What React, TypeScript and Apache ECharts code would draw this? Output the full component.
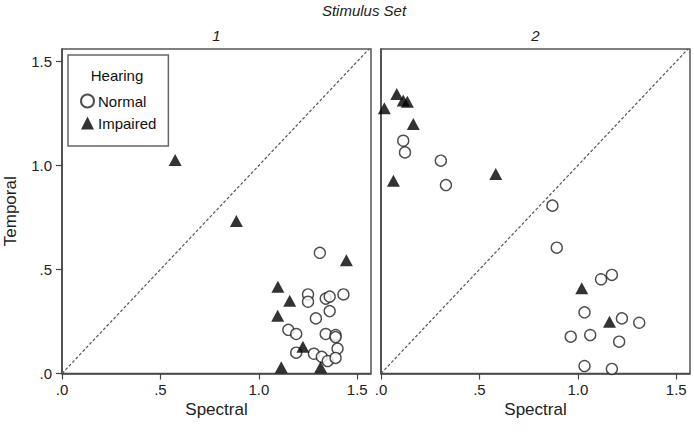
import React, { useEffect, useRef } from "react";
import * as echarts from "echarts";

// Stimulus set 1
const normalX1 = [1.31, 1.25, 1.25, 1.34, 1.36, 1.43, 1.36, 1.29, 1.15, 1.19, 1.34, 1.39, 1.39, 1.40, 1.19, 1.28, 1.32, 1.35, 1.39];
const normalY1 = [0.58, 0.38, 0.345, 0.36, 0.37, 0.38, 0.30, 0.265, 0.21, 0.19, 0.19, 0.185, 0.175, 0.12, 0.10, 0.095, 0.08, 0.06, 0.075];
const impairedX1 = [0.575, 0.886, 1.445, 1.097, 1.157, 1.096, 1.224, 1.114, 1.314];
const impairedY1 = [1.026, 0.733, 0.545, 0.417, 0.35, 0.278, 0.128, 0.03, 0.03];

// Stimulus set 2
const normalX2 = [0.113, 0.122, 0.304, 0.33, 0.871, 0.893, 1.118, 1.173, 1.034, 1.224, 1.312, 0.964, 1.063, 1.21, 1.034, 1.173];
const normalY2 = [1.119, 1.063, 1.023, 0.906, 0.807, 0.605, 0.453, 0.474, 0.294, 0.265, 0.244, 0.177, 0.185, 0.153, 0.036, 0.022];
const impairedX2 = [0.08, 0.113, 0.134, 0.017, 0.164, 0.063, 0.583, 1.02, 1.161];
const impairedY2 = [1.344, 1.312, 1.307, 1.275, 1.2, 0.927, 0.959, 0.41, 0.249];

// Reference line y = x
const diagonal = [0, 1.56];

const tickValues = [0, 0.5, 1.0, 1.5];
const tickLabels = [".0", ".5", "1.0", "1.5"];
const panelLabels = ["1", "2"];
const seriesNames = ["Normal", "Impaired"];

const FONT = "'Liberation Sans', Arial, sans-serif";

const zip = (xs: number[], ys: number[]) => xs.map((x, i) => [x, ys[i]]);
const fmt = (v: number) => {
  const i = tickValues.findIndex((t) => Math.abs(t - v) < 1e-6);
  return i >= 0 ? tickLabels[i] : "";
};

export default function App() {
  const ref = useRef<HTMLDivElement>(null);
  useEffect(() => {
    if (!ref.current) return;
    const chart = echarts.init(ref.current, null, { renderer: "svg" });
    const grids = [
      { left: 62, top: 49, width: 309, height: 324.5 },
      { left: 381, top: 49, width: 309, height: 324.5 },
    ];
    const xAxes = grids.map((_, i) => ({
      type: "value",
      gridIndex: i,
      min: 0,
      max: 1.57,
      interval: 0.5,
      name: "Spectral",
      nameLocation: "middle",
      nameGap: 26,
      nameTextStyle: { fontFamily: FONT, fontSize: 17, color: "#222" },
      axisLine: { show: true, lineStyle: { color: "#444", width: 1.5 } },
      axisTick: { show: true, length: 6, customValues: tickValues, lineStyle: { color: "#444", width: 1.2 } },
      axisLabel: {
        customValues: tickValues,
        formatter: fmt,
        fontFamily: FONT,
        fontSize: 15,
        color: "#222",
        margin: 8,
      },
      splitLine: { show: false },
    }));
    const yAxes = grids.map((_, i) => ({
      type: "value",
      gridIndex: i,
      min: 0,
      max: 1.56,
      interval: 0.5,
      name: i === 0 ? "Temporal" : "",
      nameLocation: "middle",
      nameGap: 43,
      nameRotate: 90,
      nameTextStyle: { fontFamily: FONT, fontSize: 17, color: "#222" },
      axisLine: { show: true, lineStyle: { color: "#444", width: 1.5 } },
      axisTick: { show: i === 0, length: 6, customValues: tickValues, lineStyle: { color: "#444", width: 1.2 } },
      axisLabel: {
        show: i === 0,
        customValues: tickValues,
        formatter: fmt,
        fontFamily: FONT,
        fontSize: 15,
        color: "#222",
        margin: 10,
      },
      splitLine: { show: false },
    }));
    const normalStyle = { color: "#fff", borderColor: "#222", borderWidth: 1.4 };
    const impairedStyle = { color: "#000" };
    const panels = [
      { normal: zip(normalX1, normalY1), impaired: zip(impairedX1, impairedY1) },
      { normal: zip(normalX2, normalY2), impaired: zip(impairedX2, impairedY2) },
    ];
    const series: any[] = [];
    panels.forEach((p, i) => {
      series.push({
        type: "line",
        name: "ref" + i,
        xAxisIndex: i,
        yAxisIndex: i,
        data: diagonal.map((v) => [v, v]),
        symbol: "none",
        silent: true,
        lineStyle: { color: "#555", width: 1.2, type: [3, 2] },
        z: 1,
      });
      series.push({
        type: "scatter",
        name: seriesNames[0],
        xAxisIndex: i,
        yAxisIndex: i,
        data: p.normal,
        symbol: "circle",
        symbolSize: 11,
        itemStyle: normalStyle,
        z: 3,
      });
      series.push({
        type: "scatter",
        name: seriesNames[1],
        xAxisIndex: i,
        yAxisIndex: i,
        data: p.impaired,
        symbol: "triangle",
        symbolSize: [13, 12],
        itemStyle: impairedStyle,
        z: 4,
      });
    });
    chart.setOption({
      animation: false,
      backgroundColor: "#fff",
      grid: grids.map((g) => ({ ...g, show: true, borderColor: "#555", borderWidth: 1.5, backgroundColor: "transparent" })),
      xAxis: xAxes,
      yAxis: yAxes,
      legend: {
        data: seriesNames,
        orient: "vertical",
        left: 68,
        top: 55,
        padding: [38, 12, 15, 12],
        itemWidth: 13,
        itemHeight: 13,
        itemGap: 6,
        borderColor: "#666",
        borderWidth: 1.5,
        textStyle: { fontFamily: FONT, fontSize: 15, color: "#111", lineHeight: 16, padding: [0, 0, 0, -1] },
        selectedMode: false,
      },
      graphic: [
        {
          type: "text",
          x: 364,
          y: 10,
          z: 100,
          style: { text: "Stimulus Set", fontFamily: FONT, fontSize: 15, fontStyle: "italic", fill: "#222", textAlign: "center", textVerticalAlign: "middle" },
        },
        ...grids.map((g, i) => ({
          type: "text",
          x: g.left + g.width / 2,
          y: 35,
          z: 100,
          style: { text: panelLabels[i], fontFamily: FONT, fontSize: 15, fontStyle: "italic", fill: "#222", textAlign: "center", textVerticalAlign: "middle" },
        })),
        {
          type: "text",
          x: 117,
          y: 75,
          z: 100,
          style: { text: "Hearing", fontFamily: FONT, fontSize: 15, fill: "#111", textAlign: "center", textVerticalAlign: "middle" },
        },
      ],
      series,
    });
    return () => chart.dispose();
  }, []);
  return <div ref={ref} style={{ position: "fixed", left: 0, top: 0, width: 694, height: 435 }} />;
}
